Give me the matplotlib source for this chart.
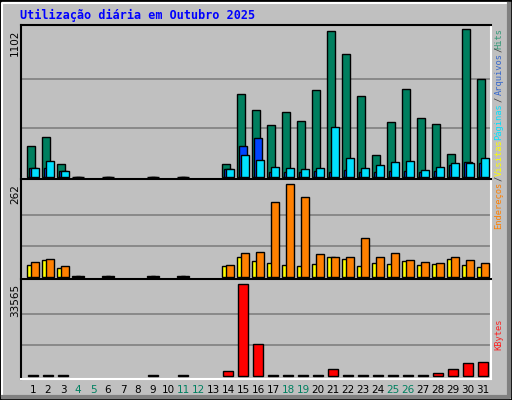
import matplotlib
matplotlib.use("Agg")
import matplotlib.pyplot as plt
import numpy as np
from matplotlib.patches import Rectangle
import matplotlib.transforms as mtransforms

days = list(range(1, 32))
day_labels = [str(d) for d in days]
weekend_days = [4, 5, 11, 12, 18, 19, 25, 26]
hits = [234, 302, 100, 3, 0, 3, 0, 0, 3, 0, 3, 0, 0, 100, 623, 504, 391, 489, 421, 653,
        1087, 915, 608, 167, 414, 660, 444, 399, 174, 1102, 735]
files = [65, 70, 47, 3, 0, 3, 0, 0, 3, 0, 3, 0, 0, 62, 234, 294, 40, 35, 40, 47,
         40, 55, 40, 40, 47, 47, 40, 47, 92, 115, 107]
pages = [70, 122, 47, 3, 0, 3, 0, 0, 3, 0, 3, 0, 0, 62, 167, 130, 77, 70, 62, 70,
         376, 145, 70, 92, 115, 122, 55, 77, 107, 107, 145]
visits = [32, 46, 24, 1, 0, 1, 0, 0, 1, 0, 1, 0, 0, 29, 55, 43, 38, 32, 29, 35,
          55, 49, 29, 38, 35, 43, 32, 35, 49, 32, 26]
visitors = [41, 49, 29, 1, 0, 1, 0, 0, 1, 0, 1, 0, 0, 32, 66, 69, 211, 262, 225, 63,
            55, 55, 109, 55, 66, 46, 41, 38, 55, 46, 38]
kbytes = [120, 120, 120, 0, 0, 0, 0, 0, 120, 0, 120, 0, 0, 1592, 33565, 11515, 120, 120, 120, 120,
          2327, 120, 120, 120, 120, 120, 120, 857, 2327, 4532, 4900]

W, H = 512, 400
fig = plt.figure(figsize=(5.12, 4.0), dpi=100)
fig.patch.set_facecolor("#c0c0c0")

def fx(px): return px / W
def fy(py): return 1 - py / H

fig.add_artist(Rectangle((0, 0), 1, 1, transform=fig.transFigure, fill=False, ec="black", lw=2))
fig.add_artist(plt.Line2D([fx(2), fx(2), fx(508)], [fy(396), fy(3), fy(3)], transform=fig.transFigure, color="white", lw=1.5))
fig.add_artist(plt.Line2D([fx(3), fx(509), fx(509)], [fy(397), fy(397), fy(4)], transform=fig.transFigure, color="#808080", lw=3))

left, right = 20.7, 490.7
x0 = 1 - (33 - left) / 15
xlim = (x0, x0 + (right - left) / 15)
dayw = 1 / 15.0

panels = [(24.7, 179.3, (-17, 1137)), (179.3, 279.3, (-7.4, 274.6)), (279.3, 379, (-1213, 35180))]
axes = []
for (t, b, yl) in panels:
    ax = fig.add_axes([fx(left), fy(b), fx(right - left), (b - t) / H])
    ax.set_facecolor("#c0c0c0")
    ax.set_xlim(*xlim)
    ax.set_ylim(*yl)
    ax.set_yticks([])
    ax.set_xticks([])
    for s in ["top", "left"]:
        ax.spines[s].set_color("black")
        ax.spines[s].set_linewidth(1.5)
    for s in ["bottom", "right"]:
        ax.spines[s].set_color("white")
        ax.spines[s].set_linewidth(1.5)
    axes.append(ax)

d = np.array(days, dtype=float)

def bars(ax, vals, off, w, color, lw=1.0):
    v = np.array(vals, dtype=float)
    m = v > 0
    ax.bar(d[m] + off * dayw, v[m], width=w * dayw, color=color, edgecolor="black", linewidth=lw, zorder=3)

ax1, ax2, ax3 = axes
for ax, mx in [(ax1, 1102), (ax2, 262), (ax3, 33565)]:
    for f in (1 / 3, 2 / 3):
        ax.axhline(mx * f, color="#808080", lw=1.2, zorder=1)

bars(ax1, hits, -2, 7.3, "#007f5f")
bars(ax1, files, 0, 7.3, "#0044ff")
bars(ax1, pages, 2, 7.3, "#00e0ff")
bars(ax2, visits, -2, 7.3, "#ffff00")
bars(ax2, visitors, 2, 7.3, "#ff8000")
bars(ax3, kbytes, 0, 10, "#ff0000")

ax3.set_xticks(days)
ax3.set_xticklabels(day_labels, fontsize=7.5, family="DejaVu Sans")
ax3.tick_params(axis="x", length=0, pad=4)
for lab, dd in zip(ax3.get_xticklabels(), days):
    lab.set_color("#008060" if dd in weekend_days else "black")

for ax, mx, lbl in [(ax1, 1102, "1102"), (ax2, 262, "262"), (ax3, 33565, "33565")]:
    tr = mtransforms.blended_transform_factory(fig.transFigure, ax.transData)
    ax.text(fx(15), mx, lbl, rotation=90, ha="center", va="top", fontsize=7.5, transform=tr)

fig.text(fx(20), fy(15), "Utilização diária em Outubro 2025", color="#0000ff", fontsize=8.5,
         family="DejaVu Sans Mono", fontweight="bold", ha="left", va="center")

pieces = [("Hits", "#339977", 28), ("/", "#404040", 47), ("Arquivos", "#3366cc", 53),
          ("/", "#404040", 97), ("Páginas", "#00e0ff", 103), ("Visitas", "#ffff00", 139),
          ("/", "#404040", 176), ("Endereços", "#ff8000", 182), ("KBytes", "#ff2020", 319)]
for txt, col, top in pieces:
    fig.text(fx(499), fy(top), txt, rotation=90, ha="center", va="top", color=col,
             fontsize=6.3, family="DejaVu Sans Mono")

fig.savefig("out.png", dpi=100, facecolor=fig.get_facecolor())
